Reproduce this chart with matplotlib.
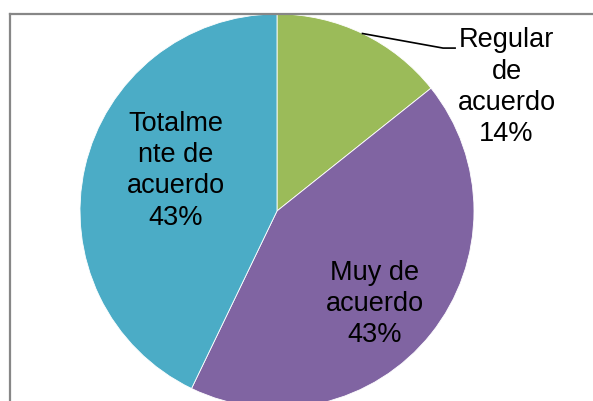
import numpy as np
import matplotlib
matplotlib.use('Agg')
import matplotlib.pyplot as plt
from matplotlib.lines import Line2D

# Datos del gráfico
categorias = ['Regular\nde\nacuerdo', 'Muy de\nacuerdo', 'Totalme\nnte de\nacuerdo']
valores = [1, 3, 3]
colores = ['#9BBB59', '#8064A2', '#4BACC6']

# Posición de cada etiqueta (en radios, respecto al centro)
pos_etiquetas = [(1.165, 0.628), (0.497, -0.472), (-0.513, 0.205)]

plt.rcParams['font.family'] = ['Liberation Sans', 'DejaVu Sans']

fig = plt.figure(figsize=(5.93, 4.01), dpi=100)
fig.patch.set_facecolor('white')

# Marco gris del área del gráfico (se sale por la derecha y por abajo)
borde = '#878787'
fig.add_artist(Line2D([9.5 / 593, 1.02], [1 - 13.5 / 401] * 2, color=borde, lw=1.6,
                      transform=fig.transFigure))
fig.add_artist(Line2D([9.5 / 593] * 2, [-0.02, 1 - 13.5 / 401], color=borde, lw=1.6,
                      transform=fig.transFigure))

# Ejes cuadrados para el pastel (radio 197 px, centro en 277, 211)
ax = fig.add_axes([80 / 593, -7 / 401, 394 / 593, 394 / 401])
wedges, _ = ax.pie(valores, colors=colores, startangle=90, counterclock=False,
                   radius=1, wedgeprops=dict(edgecolor='white', linewidth=0.6))
ax.set_xlim(-1, 1)
ax.set_ylim(-1, 1)
ax.set_aspect('equal')
ax.axis('off')

total = sum(valores)
for w, cat, v, (x, y) in zip(wedges, categorias, valores, pos_etiquetas):
    pct = round(v / total * 100)
    ax.text(x, y, f'{cat}\n{pct}%', ha='center', va='center', fontsize=19.5,
            linespacing=1.27, color='black', clip_on=False)

# Línea guía para la etiqueta de "Regular de acuerdo"
w = wedges[0]
ang = np.deg2rad((w.theta1 + w.theta2) / 2)
x0, y0 = np.cos(ang), np.sin(ang)
ax.plot([x0, 0.843, 0.904], [y0, 0.827, 0.827], color='black', lw=1.2, clip_on=False)

fig.savefig('out.png', dpi=100)
